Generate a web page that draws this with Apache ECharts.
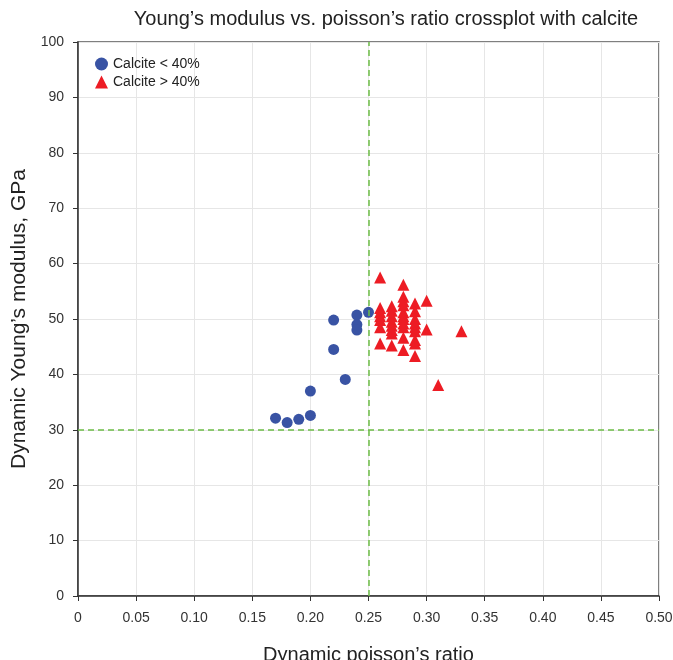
<!DOCTYPE html>
<html>
<head>
<meta charset="utf-8">
<script src="https://cdn.jsdelivr.net/npm/echarts@6/dist/echarts.min.js"></script>
<style>html,body{margin:0;padding:0;background:#fff}#c{width:673px;height:660px}</style>
</head>
<body>
<div id="c"></div>
<script>
const titleText = "Young\u2019s modulus vs. poisson\u2019s ratio crossplot with calcite";
const xName = "Dynamic poisson\u2019s ratio";
const yName = "Dynamic Young\u2019s modulus, GPa";
const seriesNames = ["Calcite < 40%", "Calcite > 40%"];
const xTicks = [0, 0.05, 0.10, 0.15, 0.20, 0.25, 0.30, 0.35, 0.40, 0.45, 0.50];

const lowCalcite = [
  [0.17, 32.1], [0.18, 31.3], [0.19, 31.9], [0.20, 32.6], [0.20, 37.0],
  [0.22, 44.5], [0.22, 49.8], [0.23, 39.1], [0.24, 50.7], [0.24, 49.0],
  [0.24, 48.0], [0.25, 51.2]
];
const highCalcite = [
  [0.26, 57.5], [0.26, 52.0], [0.26, 51.2], [0.26, 50.5], [0.26, 49.8], [0.26, 48.5], [0.26, 45.6],
  [0.27, 52.3], [0.27, 51.5], [0.27, 50.5], [0.27, 49.5], [0.27, 48.8], [0.27, 48.0], [0.27, 47.4], [0.27, 45.2],
  [0.28, 56.2], [0.28, 54.0], [0.28, 53.2], [0.28, 52.5], [0.28, 51.2], [0.28, 50.5], [0.28, 50.0],
  [0.28, 49.2], [0.28, 48.5], [0.28, 46.6], [0.28, 44.4],
  [0.29, 52.8], [0.29, 51.4], [0.29, 50.0], [0.29, 49.2], [0.29, 48.5], [0.29, 47.8], [0.29, 46.2],
  [0.29, 45.6], [0.29, 43.3],
  [0.30, 53.3], [0.30, 48.1],
  [0.31, 38.1],
  [0.33, 47.8]
];
const refX = 0.25;
const refY = 30;

const chart = echarts.init(document.getElementById('c'), null, {renderer: 'canvas'});
const font = 'Liberation Sans, Arial, sans-serif';
chart.setOption({
  animation: false,
  backgroundColor: '#fff',
  title: {
    text: titleText, left: 381, top: 4, textAlign: 'center',
    textStyle: {fontFamily: font, fontSize: 20, fontWeight: 'normal', color: '#222'}
  },
  legend: {
    left: 90, top: 52, orient: 'vertical', itemGap: 4, itemWidth: 13, itemHeight: 13,
    textStyle: {fontFamily: font, fontSize: 14, color: '#222'},
    data: [{name: seriesNames[0], icon: 'circle'}, {name: seriesNames[1], icon: 'triangle'}]
  },
  grid: {left: 78, right: 14, top: 42, bottom: 64, show: true, borderColor: '#555', borderWidth: 1.5,
    outerBoundsMode: 'none', containLabel: false},
  xAxis: {
    type: 'value', min: 0, max: 0.5, interval: 0.05,
    name: xName, nameLocation: 'middle', nameGap: 49,
    nameTextStyle: {fontFamily: font, fontSize: 20, color: '#222'},
    axisLine: {show: true, onZero: false, lineStyle: {color: '#333', width: 1.5}},
    axisTick: {show: true, length: 5, lineStyle: {color: '#333'}},
    axisLabel: {fontFamily: font, fontSize: 14, color: '#333', margin: 15,
      formatter: v => (v === 0 ? '0' : v.toFixed(2))},
    splitLine: {show: true, lineStyle: {color: '#e6e6e6', width: 1}}
  },
  yAxis: {
    type: 'value', min: 0, max: 100, interval: 10,
    name: yName, nameLocation: 'middle', nameGap: 46,
    nameTextStyle: {fontFamily: font, fontSize: 21, color: '#222'},
    axisLine: {show: true, lineStyle: {color: '#333', width: 1.5}},
    axisTick: {show: true, length: 5, lineStyle: {color: '#333'}},
    axisLabel: {fontFamily: font, fontSize: 14, color: '#333', margin: 14},
    splitLine: {show: true, lineStyle: {color: '#e6e6e6', width: 1}}
  },
  series: [
    {
      name: seriesNames[0], type: 'scatter', symbol: 'circle', symbolSize: 11,
      itemStyle: {color: '#3953a4', opacity: 1},
      data: lowCalcite, z: 3,
      markLine: {
        silent: true, symbol: 'none', label: {show: false},
        lineStyle: {color: '#6cbd45', type: [6, 4], width: 1.5},
        data: [{xAxis: refX}, {yAxis: refY}]
      }
    },
    {
      name: seriesNames[1], type: 'scatter', symbol: 'triangle', symbolSize: 12,
      itemStyle: {color: '#ed1c24', opacity: 1},
      data: highCalcite, z: 3
    }
  ]
});
</script>
</body>
</html>
